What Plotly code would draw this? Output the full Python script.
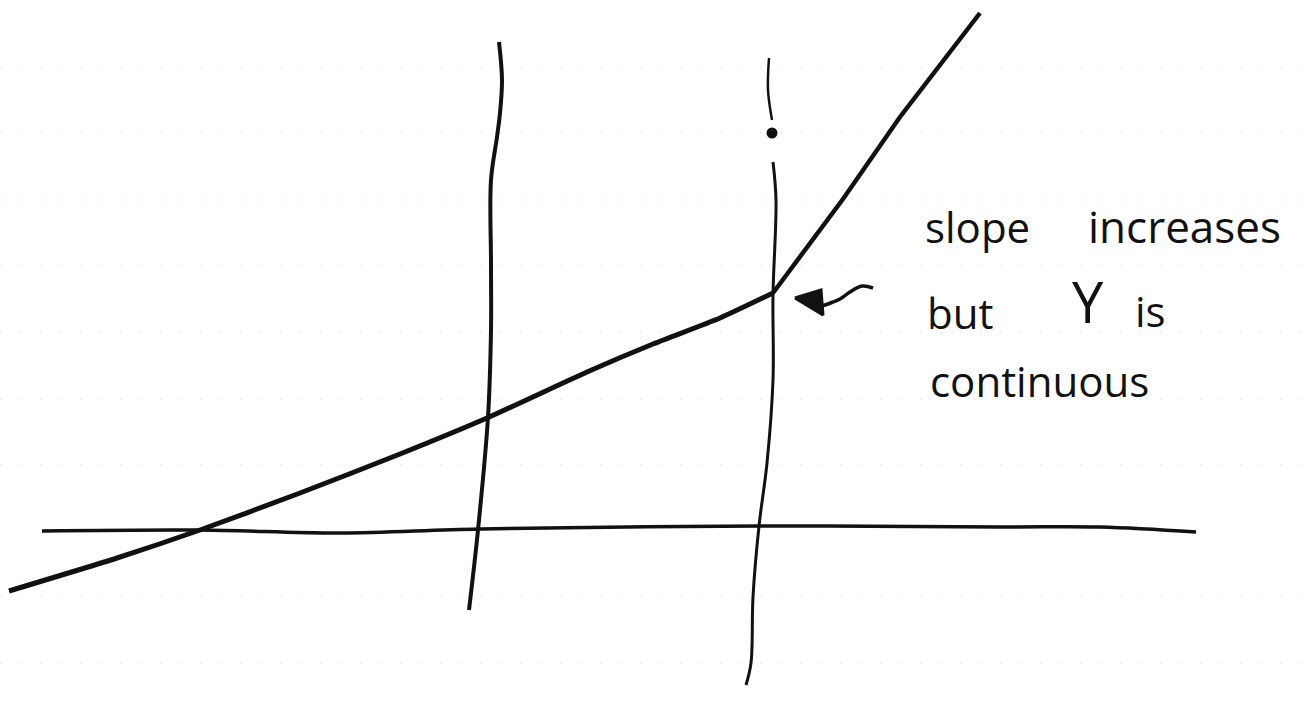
import plotly.graph_objects as go

# Piecewise-linear response: gentle slope, then steeper after the second knot
curve_low_x = [9, 117, 200, 300, 400, 487, 587, 653, 720, 773]
curve_low_y = [-60, -27, 1, 38, 77, 113, 159, 187, 213, 238]
curve_high_x = [773, 843, 900, 980]
curve_high_y = [238, 332, 414, 518]

# Horizontal axis
axis_x = [42, 200, 340, 480, 760, 1000, 1100, 1196]
axis_y = [0, 1, -2, 2, 5, 4, 4, -1]

# First knot (left vertical)
knot1_x = [499, 502, 500, 497, 491, 491, 491, 488, 478, 469]
knot1_y = [489, 451, 418, 394, 351, 268, 201, 114, 1, -79]

# Second knot (right vertical), drawn in two strokes around the dot
knot2_top_x = [769, 768, 772]
knot2_top_y = [473, 441, 411]
knot2_dot = (772, 398)
knot2_x = [773, 776, 773, 773, 767, 759, 753, 751, 746]
knot2_y = [369, 331, 236, 151, 68, 5, -66, -132, -154]

# Wavy pointer towards the kink
pointer_x = [873, 862, 850, 840, 833, 822]
pointer_y = [243, 245, 239, 232, 229, 225]
head_x = [795, 821, 823, 795]
head_y = [233, 241, 216, 233]

# Faint ruled lines of the paper
rule_y = [464, 398, 331, 265, 199, 132, 66, -66, -132]

# Note beside the kink, word by word
note_words = ["slope", "increases", "but", "Y", "is", "continuous"]
note_x = [923, 1086, 925, 1070, 1133, 928]
note_y = [305, 305, 219, 230, 221, 151]
note_size = [42, 44, 42, 56, 42, 42]

ink = "#111111"
fig = go.Figure()

for ry in rule_y:
    fig.add_trace(go.Scatter(x=[0, 1316], y=[ry, ry], mode="lines",
                             line=dict(color="rgba(150,150,150,0.25)", width=1, dash="2px,18px"),
                             hoverinfo="skip"))

fig.add_trace(go.Scatter(x=axis_x, y=axis_y, mode="lines",
                         line=dict(color=ink, width=3.5, shape="spline")))
fig.add_trace(go.Scatter(x=knot1_x, y=knot1_y, mode="lines",
                         line=dict(color=ink, width=4, shape="spline")))
fig.add_trace(go.Scatter(x=knot2_top_x, y=knot2_top_y, mode="lines",
                         line=dict(color=ink, width=2.5, shape="spline")))
fig.add_trace(go.Scatter(x=[knot2_dot[0]], y=[knot2_dot[1]], mode="markers",
                         marker=dict(color=ink, size=11)))
fig.add_trace(go.Scatter(x=knot2_x, y=knot2_y, mode="lines",
                         line=dict(color=ink, width=3, shape="spline")))
fig.add_trace(go.Scatter(x=curve_low_x, y=curve_low_y, mode="lines",
                         line=dict(color=ink, width=5, shape="spline", smoothing=0.6)))
fig.add_trace(go.Scatter(x=curve_high_x, y=curve_high_y, mode="lines",
                         line=dict(color=ink, width=4.5)))
fig.add_trace(go.Scatter(x=pointer_x, y=pointer_y, mode="lines",
                         line=dict(color=ink, width=3.5, shape="spline")))
fig.add_trace(go.Scatter(x=head_x, y=head_y, mode="lines", fill="toself",
                         fillcolor=ink, line=dict(color=ink, width=3)))

for w, x, y, s in zip(note_words, note_x, note_y, note_size):
    fig.add_annotation(x=x, y=y, text=w, showarrow=False, xanchor="left", yanchor="middle",
                       font=dict(family="Open Sans", size=s, color=ink))

fig.update_layout(
    width=1316, height=716,
    margin=dict(l=0, r=0, t=0, b=0),
    paper_bgcolor="white", plot_bgcolor="white",
    showlegend=False,
    xaxis=dict(range=[0, 1316], visible=False, fixedrange=True),
    yaxis=dict(range=[-185, 531], visible=False, fixedrange=True),
)

fig.write_html("out.html")
